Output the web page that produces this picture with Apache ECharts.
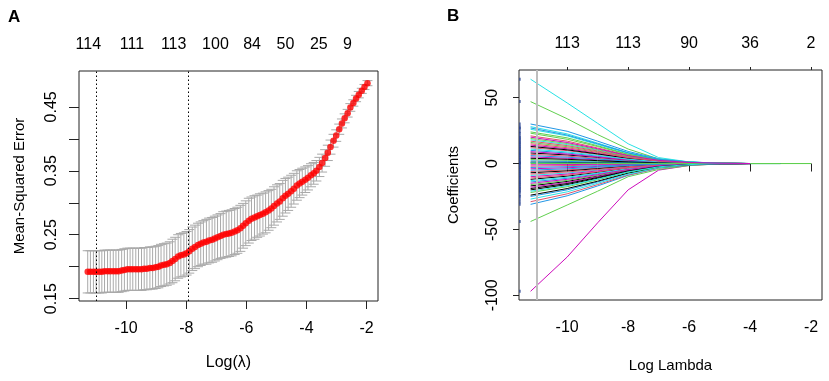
<!DOCTYPE html>
<html>
<head>
<meta charset="utf-8">
<title>LASSO cv and coefficient paths</title>
<script src="https://cdn.jsdelivr.net/npm/echarts/dist/echarts.min.js"></script>
<style>
  html, body { margin: 0; padding: 0; background: #fff; }
  #main { width: 829px; height: 381px; }
</style>
</head>
<body>
<div id="main"></div>
<script>
// ---- panel A: cross-validated error ----
const lambdaA = [
  -11.28, -11.19, -11.09, -11.00, -10.90, -10.81, -10.72, -10.62, -10.53, -10.43,
  -10.34, -10.25, -10.15, -10.06, -9.96, -9.87, -9.78, -9.68, -9.59, -9.49,
  -9.40, -9.31, -9.21, -9.12, -9.02, -8.93, -8.84, -8.74, -8.65, -8.55,
  -8.46, -8.37, -8.27, -8.18, -8.08, -7.99, -7.90, -7.80, -7.71, -7.61,
  -7.52, -7.43, -7.33, -7.24, -7.14, -7.05, -6.96, -6.86, -6.77, -6.67,
  -6.58, -6.49, -6.39, -6.30, -6.20, -6.11, -6.02, -5.92, -5.83, -5.73,
  -5.64, -5.55, -5.45, -5.36, -5.26, -5.17, -5.08, -4.98, -4.89, -4.79,
  -4.70, -4.61, -4.51, -4.42, -4.32, -4.23, -4.14, -4.04, -3.95, -3.85,
  -3.76, -3.67, -3.57, -3.48, -3.38, -3.29, -3.20, -3.10, -3.01, -2.91,
  -2.82, -2.73, -2.63, -2.54, -2.44, -2.35, -2.26, -2.16, -2.07, -1.97
]
const cvMean = [
  0.192, 0.192, 0.192, 0.192, 0.192, 0.192, 0.193, 0.193, 0.193, 0.193,
  0.193, 0.193, 0.194, 0.195, 0.196, 0.196, 0.196, 0.196, 0.196, 0.196,
  0.197, 0.197, 0.198, 0.198, 0.199, 0.200, 0.202, 0.203, 0.204, 0.206,
  0.209, 0.212, 0.216, 0.218, 0.219, 0.221, 0.224, 0.228, 0.231, 0.234,
  0.236, 0.238, 0.239, 0.241, 0.242, 0.244, 0.246, 0.248, 0.250, 0.251,
  0.252, 0.253, 0.255, 0.257, 0.260, 0.264, 0.268, 0.272, 0.275, 0.277,
  0.279, 0.281, 0.283, 0.285, 0.288, 0.291, 0.295, 0.299, 0.302, 0.307,
  0.311, 0.314, 0.318, 0.322, 0.327, 0.330, 0.333, 0.336, 0.339, 0.343,
  0.346, 0.350, 0.356, 0.362, 0.370, 0.378, 0.387, 0.397, 0.405, 0.415,
  0.424, 0.432, 0.440, 0.449, 0.456, 0.463, 0.469, 0.475, 0.481, 0.487
]
const cvSE = [
  0.033, 0.033, 0.033, 0.033, 0.033, 0.033, 0.033, 0.033, 0.033, 0.033,
  0.033, 0.033, 0.033, 0.033, 0.033, 0.033, 0.033, 0.033, 0.033, 0.033,
  0.033, 0.033, 0.033, 0.033, 0.033, 0.033, 0.033, 0.033, 0.033, 0.033,
  0.034, 0.034, 0.034, 0.034, 0.034, 0.034, 0.034, 0.034, 0.034, 0.034,
  0.034, 0.034, 0.035, 0.035, 0.035, 0.035, 0.035, 0.035, 0.036, 0.036,
  0.036, 0.036, 0.036, 0.036, 0.036, 0.035, 0.035, 0.035, 0.034, 0.034,
  0.033, 0.033, 0.032, 0.032, 0.031, 0.030, 0.030, 0.029, 0.028, 0.028,
  0.027, 0.026, 0.025, 0.024, 0.023, 0.022, 0.021, 0.020, 0.019, 0.018,
  0.017, 0.016, 0.015, 0.014, 0.013, 0.012, 0.011, 0.010, 0.009, 0.008,
  0.007, 0.007, 0.006, 0.006, 0.005, 0.005, 0.005, 0.004, 0.004, 0.004
]
const lambdaMin = -11.0
const lambda1se = -7.92
// number of nonzero coefs along the top
const topAtA = [-11.26, -9.81, -8.42, -7.03, -5.81, -4.70, -3.59, -2.64]
const topDfA = ['114', '111', '113', '100', '84', '50', '25', '9']
const yTicksA = [0.15, 0.2, 0.25, 0.3, 0.35, 0.4, 0.45]
const yLabelsA = [0.15, 0.25, 0.35, 0.45]
const xTicks = [-10, -8, -6, -4, -2]

// ---- panel B: coefficient paths ----
const coefKnots = [-11.2, -10, -9, -8, -7, -6, -5, -4, -3, -2]
const coefPaths = [
  [8, 6.5, 4.6, 2.5, 1, 0.3, 0.1, 0],
  [12, 9.8, 6.8, 3.7, 1.5, 0.5, 0.1, 0],
  [47, 34, 22, 11, 3.5, 1, 0.2, 0, 0, 0],
  [30, 24.5, 17, 9.2, 3.6, 1.2, 0.3, 0],
  [64, 46, 30.5, 15, 4.5, 1.2, 0.2, 0, 0],
  [-97, -71, -45, -20, -5, -1.5, -0.2, 0],
  [-12, -9.6, -6.7, -3.6, -1.4, -0.5, -0.1, 0, 0],
  [-6, -4.8, -3.4, -1.8, -0.7, -0.2, 0, 0],
  [-44, -31.5, -21, -10, -4.5, -1.5, -0.3, 0, 0, 0],
  [-31, -24.5, -17, -9, -3.5, -1.1, -0.2, 0],
  [28, 22.5, 15.5, 8.3, 3.3, 1.1, 0.3, 0, 0],
  [5, 4, 2.8, 1.5, 0.6, 0.2, 0, 0],
  [-17, -13.6, -9.5, -5.1, -2, -0.7, -0.2, 0],
  [21, 17, 11.8, 6.3, 2.5, 0.8, 0.2, 0],
  [24, 19.5, 13.5, 7.2, 2.9, 1, 0.2, 0],
  [-25, -20, -14, -7.5, -3, -1, -0.2, 0],
  [18, 14.4, 10, 5.4, 2.2, 0.7, 0.2, 0],
  [-4, -3.2, -2.2, -1.2, -0.5, -0.2, 0, 0],
  [-20, -16, -11.2, -6, -2.4, -0.8, -0.2, 0],
  [-29, -23, -16, -8.7, -3.5, -1.1, -0.3, 0],
  [16, 12.8, 9, 4.8, 1.9, 0.6, 0.2, 0, 0, 0],
  [10, 8, 5.6, 3, 1.2, 0.4, 0.1, 0],
  [-9, -7.2, -5, -2.7, -1.1, -0.4, -0.1, 0],
  [14, 11.2, 7.8, 4.2, 1.7, 0.6, 0.1, 0],
  [-24, -19, -13.4, -7.2, -2.9, -0.9, -0.2, 0, 0],
  [-2, -1.6, -1.1, -0.6, -0.2, -0.1, 0, 0],
  [3, 2.4, 1.7, 0.9, 0.4, 0.1, 0, 0],
  [-14, -11.2, -7.8, -4.2, -1.7, -0.6, -0.1, 0],
  [26, 21, 14.5, 7.8, 3.1, 1, 0.2, 0, 0],
  [-10, -8, -5.6, -3, -1.2, -0.4, -0.1, 0],
  [13, 10.4, 7.3, 3.9, 1.6, 0.5, 0.1, 0],
  [7, 5.6, 3.9, 2.1, 0.8, 0.3, 0.1, 0],
  [-16, -12.8, -9, -4.8, -1.9, -0.6, -0.2, 0],
  [2, 1.6, 1.1, 0.6, 0.2, 0.1, 0, 0],
  [-27, -21.5, -15, -8.1, -3.2, -1, -0.2, 0],
  [9, 7.2, 5, 2.7, 1.1, 0.4, 0.1, 0],
  [-7, -5.6, -3.9, -2.1, -0.8, -0.3, -0.1, 0],
  [17, 13.6, 9.5, 5.1, 2, 0.7, 0.2, 0],
  [-22, -17.6, -12.3, -6.6, -2.6, -0.9, -0.2, 0],
  [6, 4.8, 3.4, 1.8, 0.7, 0.2, 0.1, 0],
  [-13, -10.4, -7.3, -3.9, -1.6, -0.5, -0.1, 0],
  [-18, -14.4, -10, -5.4, -2.2, -0.7, -0.2, 0],
  [1, 0.8, 0.6, 0.3, 0.1, 0, 0, 0, 0],
  [-11, -8.8, -6.2, -3.3, -1.3, -0.4, -0.1, 0],
  [19, 15.2, 10.6, 5.7, 2.3, 0.8, 0.2, 0],
  [-3, -2.4, -1.7, -0.9, -0.4, -0.1, 0, 0],
  [11, 8.8, 6.2, 3.3, 1.3, 0.4, 0.1, 0],
  [-1, -0.8, -0.6, -0.3, -0.1, 0, 0, 0],
  [4, 3.2, 2.2, 1.2, 0.5, 0.2, 0, 0],
  [-8, -6.4, -4.5, -2.4, -1, -0.3, -0.1, 0],
  [23, 18.4, 12.9, 6.9, 2.8, 0.9, 0.2, 0],
  [-5, -4, -2.8, -1.5, -0.6, -0.2, 0, 0],
  [0.5, 0.4, 0.3, 0.2, 0.1, 0, 0, 0, 0],
  [-15, -12, -8.4, -4.5, -1.8, -0.6, -0.1, 0],
  [-19, -15.2, -10.6, -5.7, -2.3, -0.8, -0.2, 0],
  [15, 12, 8.4, 4.5, 1.8, 0.6, 0.1, 0],
  [0, 0, 0, 0, 0, 0, 0, 0, 0, 0],
  [27, 21.6, 15, 8.1, 3.2, 1.1, 0.3, 0],
  [-21, -16.8, -11.8, -6.3, -2.5, -0.8, -0.2, 0],
  [20, 16, 11.2, 6, 2.4, 0.8, 0.2, 0]
]
const lambdaSelB = -11.01
const labelPosB = -11.55 // where glmnet puts its (tiny) variable labels
const topAtB = [-10, -8, -6, -4, -2]
const topDfB = ['113', '113', '90', '36', '2']
const yTicksB = [-100, -50, 0, 50]

// R matplot default colours
const palette = ['#000000', '#DF536B', '#61D04F', '#2297E6', '#28E2E5', '#CD0BBC']
const font = 'Liberation Sans, Arial, sans-serif'
const txt = { color: '#000', fontSize: 16, fontFamily: font }
const nameTxt = { color: '#000', fontSize: 15, fontFamily: font }

function bottomAxis (gridIndex, tickLen) {
  return {
    type: 'value', gridIndex: gridIndex, position: 'bottom',
    min: gridIndex === 0 ? -11.57 : -11.58,
    max: gridIndex === 0 ? -1.62 : -1.64,
    name: gridIndex === 0 ? 'Log(λ)' : 'Log Lambda',
    nameLocation: 'middle',
    nameGap: gridIndex === 0 ? 54 : 58,
    nameTextStyle: gridIndex === 0 ? txt : nameTxt,
    axisLine: { show: false },
    axisTick: { show: true, length: tickLen, customValues: xTicks, lineStyle: { color: '#222' } },
    axisLabel: Object.assign({ customValues: xTicks, margin: 20 }, txt),
    splitLine: { show: false }
  }
}

function topAxis (gridIndex, at, labels, tickLen) {
  return {
    type: 'value', gridIndex: gridIndex, position: 'top',
    min: gridIndex === 0 ? -11.57 : -11.58,
    max: gridIndex === 0 ? -1.62 : -1.64,
    axisLine: { show: false },
    axisTick: { show: tickLen > 0, length: tickLen, customValues: at, lineStyle: { color: '#222' } },
    axisLabel: Object.assign({
      customValues: at,
      margin: 18,
      formatter: function (v) {
        let best = 0
        for (let i = 1; i < at.length; i++) {
          if (Math.abs(at[i] - v) < Math.abs(at[best] - v)) best = i
        }
        return labels[best]
      }
    }, txt),
    splitLine: { show: false }
  }
}

const option = {
  animation: false,
  backgroundColor: '#fff',
  title: [
    { text: 'A', left: 3, top: 4, textStyle: { fontSize: 17, fontWeight: 'bold', fontFamily: font, color: '#000' } },
    { text: 'B', left: 442, top: 3, textStyle: { fontSize: 17, fontWeight: 'bold', fontFamily: font, color: '#000' } }
  ],
  grid: [
    { left: 79, top: 71, width: 299, height: 230, show: true, borderColor: '#222', borderWidth: 1 },
    { left: 519, top: 70, width: 303, height: 230, show: true, borderColor: '#222', borderWidth: 1 }
  ],
  xAxis: [
    bottomAxis(0, 8),
    topAxis(0, topAtA, topDfA, 0),
    bottomAxis(1, 8),
    topAxis(1, topAtB, topDfB, 3)
  ],
  yAxis: [
    {
      type: 'value', gridIndex: 0, min: 0.1464, max: 0.506,
      name: 'Mean-Squared Error', nameLocation: 'middle', nameGap: 52, nameRotate: 90,
      nameTextStyle: nameTxt,
      axisLine: { show: false },
      axisTick: { show: true, length: 10, customValues: yTicksA, lineStyle: { color: '#222' } },
      axisLabel: Object.assign({
        customValues: yLabelsA, rotate: 90, margin: 19,
        formatter: function (v) { return v.toFixed(2) }
      }, txt),
      splitLine: { show: false }
    },
    {
      type: 'value', gridIndex: 1, min: -103.6, max: 71.0,
      name: 'Coefficients', nameLocation: 'middle', nameGap: 58, nameRotate: 90,
      nameTextStyle: nameTxt,
      axisLine: { show: false },
      axisTick: { show: true, length: 6, customValues: yTicksB, lineStyle: { color: '#222' } },
      axisLabel: Object.assign({ customValues: yTicksB, rotate: 90, margin: 18 }, txt),
      splitLine: { show: false }
    }
  ],
  series: []
}

// error bars (grey, with caps)
option.series.push({
  type: 'custom',
  xAxisIndex: 0, yAxisIndex: 0,
  data: lambdaA.map((x, i) => [x, cvMean[i] - cvSE[i], cvMean[i] + cvSE[i]]),
  renderItem: function (params, api) {
    const lo = api.coord([api.value(0), api.value(1)])
    const hi = api.coord([api.value(0), api.value(2)])
    const st = { stroke: '#a9a9a9', lineWidth: 1 }
    const cap = 5
    return {
      type: 'group',
      children: [
        { type: 'line', shape: { x1: lo[0], y1: lo[1], x2: hi[0], y2: hi[1] }, style: st },
        { type: 'line', shape: { x1: lo[0] - cap, y1: lo[1], x2: lo[0] + cap, y2: lo[1] }, style: st },
        { type: 'line', shape: { x1: hi[0] - cap, y1: hi[1], x2: hi[0] + cap, y2: hi[1] }, style: st }
      ]
    }
  },
  z: 1
})

// mean CV error points + dotted reference lines
option.series.push({
  type: 'scatter',
  xAxisIndex: 0, yAxisIndex: 0,
  symbol: 'circle', symbolSize: 6.5,
  itemStyle: { color: '#ff0000' },
  data: lambdaA.map((x, i) => [x, cvMean[i]]),
  markLine: {
    silent: true, symbol: 'none', label: { show: false },
    lineStyle: { color: '#000', width: 1, type: [1.5, 2.5] },
    data: [{ xAxis: lambdaMin }, { xAxis: lambda1se }]
  },
  z: 2
})

// coefficient paths
coefPaths.forEach((path, i) => {
  option.series.push({
    type: 'line',
    xAxisIndex: 2, yAxisIndex: 1,
    showSymbol: false,
    lineStyle: { width: 1, color: palette[i % palette.length] },
    data: path.map((v, k) => [coefKnots[k], v]),
    z: 2
  })
})

// tiny variable labels at the left edge, drawn as marks
option.series.push({
  type: 'scatter',
  xAxisIndex: 2, yAxisIndex: 1,
  symbol: 'rect', symbolSize: [1.5, 3],
  itemStyle: { color: '#24408e' },
  data: coefPaths.map(p => [labelPosB, p[0]]),
  z: 2
})

// selected lambda (grey vertical line)
option.series.push({
  type: 'line',
  xAxisIndex: 2, yAxisIndex: 1,
  data: [],
  markLine: {
    silent: true, symbol: 'none', label: { show: false },
    lineStyle: { color: '#bebebe', width: 2, type: 'solid' },
    data: [{ xAxis: lambdaSelB }]
  },
  z: 3
})

const chart = echarts.init(document.getElementById('main'))
chart.setOption(option)
</script>
</body>
</html>
